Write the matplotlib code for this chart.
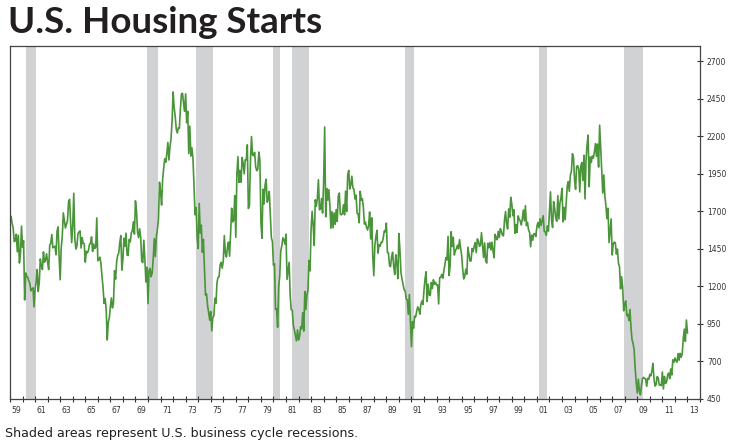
import numpy as np
import matplotlib.pyplot as plt

# monthly housing starts (thousands, SAAR), Jan 1959 - Jan 2013
starts_1959_1969 = [
    1657, 1667, 1620, 1590, 1498, 1503, 1547, 1430, 1540, 1355, 1416, 1601,
    1460, 1503, 1109, 1289, 1266, 1260, 1236, 1219, 1170, 1182, 1190, 1063,
    1183, 1226, 1312, 1166, 1228, 1382, 1335, 1312, 1429, 1361, 1376, 1417,
    1358, 1312, 1474, 1488, 1545, 1457, 1462, 1467, 1410, 1567, 1596, 1396,
    1244, 1456, 1534, 1689, 1641, 1588, 1614, 1639, 1763, 1779, 1622, 1491,
    1603, 1820, 1517, 1448, 1467, 1550, 1562, 1569, 1455, 1524, 1486, 1484,
    1361, 1433, 1423, 1438, 1478, 1488, 1529, 1432, 1482, 1452, 1460, 1656,
    1370, 1378, 1394, 1352, 1265, 1194, 1086, 1119, 1046, 843, 961, 990,
    1067, 1123, 1056, 1091, 1304, 1248, 1364, 1407, 1421, 1491, 1538, 1308,
    1380, 1520, 1466, 1554, 1408, 1405, 1512, 1495, 1556, 1569, 1630, 1548,
    1769, 1705, 1561, 1524, 1583, 1528, 1368, 1358, 1507, 1381, 1229, 1327,
]
starts_1970_1979 = [
    1085, 1305, 1319, 1264, 1290, 1385, 1517, 1399, 1534, 1580, 1647, 1893,
    1828, 1741, 1910, 1986, 2049, 2026, 2083, 2158, 2041, 2128, 2182, 2295,
    2494, 2390, 2334, 2249, 2221, 2254, 2252, 2382, 2481, 2485, 2421, 2366,
    2481, 2289, 2365, 2084, 2266, 2067, 2123, 2051, 1874, 1677, 1724, 1526,
    1451, 1752, 1555, 1607, 1426, 1513, 1316, 1142, 1150, 1070, 1026, 975,
    1032, 904, 993, 1005, 1121, 1087, 1226, 1260, 1264, 1344, 1360, 1321,
    1367, 1538, 1421, 1395, 1459, 1495, 1401, 1550, 1720, 1629, 1641, 1804,
    1527, 1943, 2063, 1892, 1971, 1893, 2058, 2020, 1949, 2042, 2042, 2142,
    1718, 1738, 2032, 2197, 2075, 2070, 2092, 1996, 1970, 1981, 2094, 2044,
    1630, 1520, 1847, 1748, 1876, 1913, 1760, 1778, 1832, 1681, 1524, 1498,
]
starts_1980_1989 = [
    1341, 1350, 1047, 1051, 927, 1196, 1269, 1436, 1471, 1523, 1510, 1482,
    1547, 1246, 1306, 1360, 1140, 1045, 1041, 940, 911, 873, 837, 910,
    843, 866, 931, 917, 1025, 902, 1166, 1046, 1144, 1173, 1372, 1303,
    1586, 1699, 1606, 1472, 1776, 1733, 1785, 1910, 1710, 1715, 1785, 1688,
    1897, 2260, 1663, 1851, 1774, 1843, 1732, 1586, 1698, 1590, 1689, 1612,
    1711, 1632, 1800, 1821, 1680, 1676, 1684, 1743, 1676, 1834, 1698, 1942,
    1972, 1848, 1876, 1933, 1854, 1847, 1782, 1807, 1687, 1681, 1623, 1833,
    1774, 1784, 1726, 1614, 1628, 1594, 1575, 1605, 1695, 1515, 1656, 1400,
    1271, 1473, 1532, 1573, 1421, 1478, 1467, 1493, 1492, 1522, 1569, 1563,
    1621, 1425, 1422, 1339, 1331, 1397, 1427, 1332, 1279, 1410, 1351, 1251,
]
starts_1990_1999 = [
    1551, 1437, 1289, 1248, 1212, 1177, 1171, 1115, 1110, 1014, 1145, 969,
    798, 965, 921, 1001, 996, 1036, 1063, 1049, 1015, 1079, 1103, 1079,
    1176, 1250, 1297, 1099, 1214, 1145, 1139, 1226, 1186, 1244, 1214, 1227,
    1210, 1210, 1083, 1258, 1260, 1280, 1254, 1300, 1343, 1392, 1376, 1533,
    1272, 1337, 1564, 1465, 1526, 1409, 1439, 1450, 1474, 1450, 1511, 1455,
    1407, 1316, 1249, 1267, 1314, 1281, 1461, 1416, 1369, 1369, 1452, 1431,
    1467, 1491, 1424, 1516, 1504, 1467, 1472, 1557, 1475, 1392, 1489, 1370,
    1355, 1486, 1457, 1492, 1442, 1494, 1437, 1390, 1546, 1520, 1510, 1566,
    1525, 1584, 1567, 1540, 1536, 1641, 1698, 1614, 1582, 1715, 1660, 1792,
    1748, 1670, 1710, 1553, 1611, 1559, 1669, 1648, 1635, 1608, 1648, 1708,
]
starts_2000_2013 = [
    1636, 1737, 1604, 1626, 1575, 1559, 1463, 1541, 1507, 1549, 1551, 1532,
    1600, 1625, 1590, 1649, 1605, 1636, 1670, 1567, 1562, 1540, 1602, 1568,
    1698, 1829, 1642, 1592, 1764, 1717, 1655, 1633, 1804, 1648, 1753, 1788,
    1853, 1629, 1726, 1643, 1751, 1867, 1897, 1833, 1939, 1967, 2083, 2057,
    1911, 1846, 1998, 2003, 1981, 1828, 2002, 2024, 1905, 2072, 1782, 2042,
    2144, 2207, 1864, 2061, 2025, 2068, 2054, 2095, 2151, 2065, 2147, 1994,
    2273, 2119, 1969, 1821, 1942, 1802, 1737, 1650, 1720, 1491, 1570, 1649,
    1409, 1480, 1495, 1490, 1415, 1448, 1354, 1330, 1183, 1264, 1197, 1037,
    1084, 1103, 1005, 1013, 973, 1046, 923, 844, 820, 777, 652, 560,
    490, 582, 505, 478, 540, 585, 594, 586, 585, 534, 588, 581,
    614, 604, 636, 687, 583, 536, 546, 599, 591, 543, 545, 539,
    630, 517, 600, 554, 561, 608, 623, 585, 650, 610, 711, 694,
    723, 704, 695, 753, 708, 754, 728, 750, 854, 915, 833, 976,
    890,
]

# recession start / end (decimal years)
rec_start = [1960.25, 1969.917, 1973.833, 1980.0, 1981.5, 1990.5, 2001.167, 2007.917]
rec_end = [1961.083, 1970.833, 1975.167, 1980.5, 1982.833, 1991.167, 2001.833, 2009.417]

y_ticks = [450, 700, 950, 1200, 1450, 1700, 1950, 2200, 2450, 2700]

starts = (starts_1959_1969 + starts_1970_1979 + starts_1980_1989
          + starts_1990_1999 + starts_2000_2013)
t = 1959 + np.arange(len(starts)) / 12.0

fig = plt.figure(figsize=(7.36, 4.41), dpi=100)
ax = fig.add_axes([10 / 736, 1 - 399 / 441, 690 / 736, 353 / 441])

for a, b in zip(rec_start, rec_end):
    ax.axvspan(a, b, color='#d1d2d4', lw=0, zorder=0)

ax.plot(t, starts, color='#4a943a', lw=1.2, zorder=2)

ax.set_xlim(1959, 2014)
ax.set_ylim(450, 2800)

# year boundary ticks, labels centred on odd years
ax.set_xticks(np.arange(1959, 2015))
ax.set_xticklabels([])
ax.set_xticks(np.arange(1959, 2014, 2) + 0.5, minor=True)
ax.set_xticklabels(['%02d' % (y % 100) for y in range(1959, 2014, 2)], minor=True)
ax.tick_params(axis='x', which='major', direction='inout', length=4, width=0.8, color='#333333')
ax.tick_params(axis='x', which='minor', length=0, pad=5, labelsize=5.5, labelcolor='#333333')

ax.yaxis.tick_right()
ax.set_yticks(y_ticks)
ax.set_yticklabels([str(v) for v in y_ticks])
ax.tick_params(axis='y', direction='inout', length=4, width=0.8, color='#333333',
               labelsize=5.5, labelcolor='#333333', pad=3)

for s in ax.spines.values():
    s.set_color('#444444')
    s.set_linewidth(0.9)

fig.text(8 / 736, 1 - 33 / 441, 'U.S. Housing Starts', fontsize=26.5, fontweight='bold',
         family='Lato', color='#231f20', va='baseline', ha='left')
fig.text(5 / 736, 1 - 437 / 441, 'Shaded areas represent U.S. business cycle recessions.',
         fontsize=9.1, color='#231f20', va='baseline', ha='left')

fig.savefig('out.png', dpi=100)
